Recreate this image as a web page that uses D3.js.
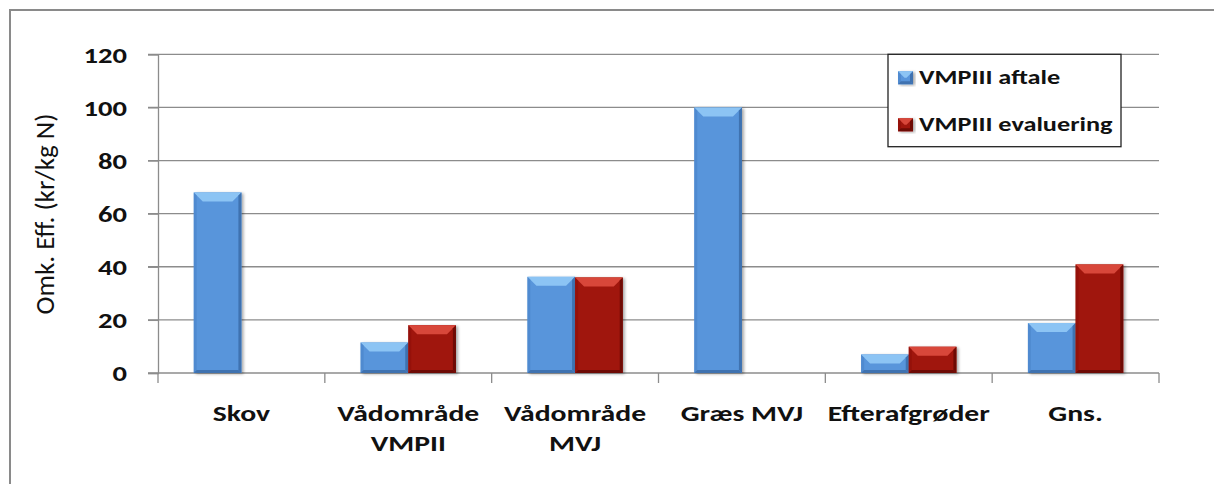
<!DOCTYPE html>
<html>
<head>
<meta charset="utf-8">
<script src="https://cdn.jsdelivr.net/npm/d3@7"></script>
<style>
  body { margin: 0; background: #fff; }
  text { font-family: Carlito, Calibri, Lato, sans-serif; fill: #111; }
</style>
</head>
<body>
<div id="chart"></div>
<script>
// Chart values
var categories = ["Skov", "Vådområde\nVMPII", "Vådområde\nMVJ", "Græs MVJ", "Efterafgrøder", "Gns."]
var seriesNames = ["VMPIII aftale", "VMPIII evaluering"]
var aftale = [68, 11.5, 36.2, 100, 7, 18.8]
var evaluering = [null, 18, 36, null, 9.9, 40.9]
var yTicks = [0, 20, 40, 60, 80, 100, 120]
var yTitle = "Omk. Eff. (kr/kg N)"

var width = 1214
var height = 484
var plotLeft = 158, plotRight = 1159, plotTop = 54.3, plotBottom = 373
var SX = 1.25        // the source picture is stretched sideways
var SX_LABEL = 1.35  // category labels are a bit wider still
var SX_TICK = 1.3

var colors = {
  "VMPIII aftale": { body: "#5895db", top: "#8cc4f4", side: "#4a83c8", dark: "#3f72b0" },
  "VMPIII evaluering": { body: "#a0130b", top: "#d8473a", side: "#8e0f08", dark: "#6e0b05" }
}

var svg = d3.select('#chart').append('svg')
              .attr('width', width)
              .attr('height', height)

var defs = svg.append('defs')
var shadow = defs.append('filter').attr('id', 'shadow')
                   .attr('x', '-20%').attr('y', '-20%').attr('width', '140%').attr('height', '140%')
shadow.append('feDropShadow').attr('dx', 2).attr('dy', 1).attr('stdDeviation', 1.5)
      .attr('flood-color', '#000').attr('flood-opacity', 0.35)

// outer frame (top and left edge of the figure box)
svg.append('path')
   .attr('d', 'M10,' + height + ' L10,10 L' + width + ',10')
   .attr('fill', 'none').attr('stroke', '#8a8a8a').attr('stroke-width', 2)

// scales
var x0 = d3.scaleBand().domain(categories).range([plotLeft, plotRight]).padding(0)
var bw = x0.bandwidth() / 3.5
var x1 = d3.scaleBand().domain(seriesNames)
           .range([bw * 0.75, bw * 2.75]).padding(0)
var y = d3.scaleLinear().domain([0, 120]).range([plotBottom, plotTop])

// gridlines
svg.append('g').selectAll('line').data(yTicks.filter(d => d > 0)).enter()
   .append('line')
   .attr('x1', plotLeft - 10).attr('x2', plotRight)
   .attr('y1', d => y(d)).attr('y2', d => y(d))
   .attr('stroke', '#8c8c8c').attr('stroke-width', 1.3)

// y axis
var yAxis = d3.axisLeft(y).tickValues(yTicks).tickSize(10).tickPadding(0)
var yG = svg.append('g').attr('transform', 'translate(' + plotLeft + ',0)').call(yAxis)
yG.select('.domain').attr('stroke', '#8c8c8c').attr('stroke-width', 1.3)
yG.selectAll('.tick line').attr('stroke', '#8c8c8c').attr('stroke-width', 1.3)
yG.selectAll('.tick text')
   .attr('x', -31 / SX_TICK)
   .attr('dy', '0.36em')
   .attr('transform', 'scale(' + SX_TICK + ',1)')
   .style('font-size', '22px').style('font-weight', 'bold')
   .attr('fill', '#111')
   .style('font-family', 'Carlito, Calibri, Lato, sans-serif')

// x axis line and ticks between categories
svg.append('line').attr('x1', plotLeft - 10).attr('x2', plotRight)
   .attr('y1', plotBottom).attr('y2', plotBottom)
   .attr('stroke', '#8c8c8c').attr('stroke-width', 1.3)
var bounds = categories.map(c => x0(c)).concat([x0(categories[categories.length - 1]) + x0.bandwidth()])
svg.append('g').selectAll('line').data(bounds).enter()
   .append('line')
   .attr('x1', d => d).attr('x2', d => d)
   .attr('y1', plotBottom).attr('y2', plotBottom + 10)
   .attr('stroke', '#8c8c8c').attr('stroke-width', 1.3)

// category labels
categories.forEach(function (c) {
  var lines = c.split('\n')
  lines.forEach(function (ln, i) {
    svg.append('text')
       .attr('transform', 'translate(' + (x0(c) + x0.bandwidth() / 2) + ',' + (420.7 + i * 30) + ') scale(' + SX_LABEL + ',1)')
       .attr('text-anchor', 'middle')
       .style('font-size', '22px').style('font-weight', 'bold')
       .text(ln)
  })
})

// y title
svg.append('text')
   .attr('transform', 'translate(54,214) rotate(-90)')
   .attr('text-anchor', 'middle')
   .style('font-size', '27px')
   .text(yTitle)

// bevelled bar
function bevelBar (g, x, yTop, w, h, col) {
  var b = Math.min(9, h / 2), s = Math.min(3, h / 3)
  var grp = g.append('g')
  grp.append('rect').attr('x', x).attr('y', yTop).attr('width', w).attr('height', h)
     .attr('fill', col.body).attr('filter', 'url(#shadow)')
  // top bevel
  grp.append('polygon')
     .attr('points', [[x, yTop], [x + w, yTop], [x + w - b, yTop + b], [x + b, yTop + b]].join(' '))
     .attr('fill', col.top)
  // left edge
  grp.append('polygon')
     .attr('points', [[x, yTop], [x + s, yTop + s], [x + s, yTop + h - s], [x, yTop + h]].join(' '))
     .attr('fill', col.side).attr('opacity', 0.6)
  // right edge
  grp.append('polygon')
     .attr('points', [[x + w, yTop], [x + w, yTop + h], [x + w - s, yTop + h - s], [x + w - s, yTop + s]].join(' '))
     .attr('fill', col.dark)
  // bottom edge
  grp.append('polygon')
     .attr('points', [[x, yTop + h], [x + w, yTop + h], [x + w - s, yTop + h - s], [x + s, yTop + h - s]].join(' '))
     .attr('fill', col.dark)
}

var barData = []
categories.forEach(function (c, i) {
  barData.push({ cat: c, s: seriesNames[0], v: aftale[i] })
  barData.push({ cat: c, s: seriesNames[1], v: evaluering[i] })
})

var bars = svg.append('g')
barData.filter(d => d.v != null).forEach(function (d) {
  bevelBar(bars, x0(d.cat) + x1(d.s), y(d.v), x1.bandwidth(), y(0) - y(d.v), colors[d.s])
})

// legend
var legend = svg.append('g')
legend.append('rect').attr('x', 888).attr('y', 54.3).attr('width', 233).attr('height', 92.4)
      .attr('fill', '#fff').attr('stroke', '#222').attr('stroke-width', 1.3)
seriesNames.forEach(function (s, i) {
  var yy = 84.3 + i * 47
  bevelBar(legend, 898, yy - 13, 15, 13, colors[s])
  legend.append('text')
        .attr('transform', 'translate(919,' + yy + ') scale(' + SX + ',1)')
        .style('font-size', '21px').style('font-weight', 'bold')
        .text(s)
})
</script>
</body>
</html>
